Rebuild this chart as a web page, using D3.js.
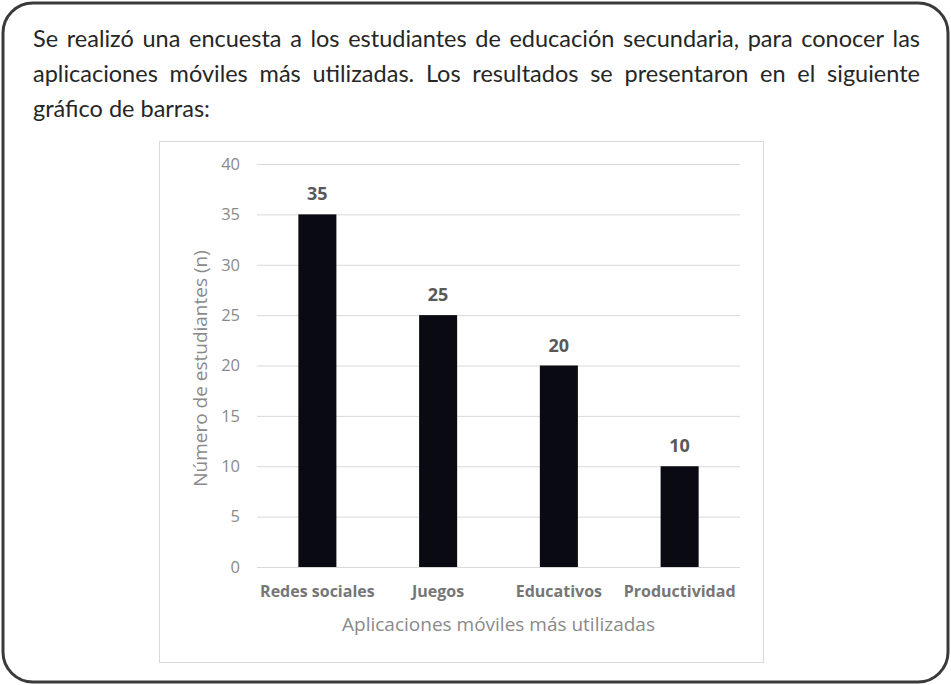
<!DOCTYPE html>
<html>
<head>
<meta charset="utf-8">
<script src="https://cdn.jsdelivr.net/npm/d3@7"></script>
<style>
  html, body { margin: 0; padding: 0; background: #fff; }
  svg { display: block; }
</style>
</head>
<body>
<svg id="chart" width="951" height="685"></svg>
<script>
const categories = ["Redes sociales", "Juegos", "Educativos", "Productividad"];
const students = [35, 25, 20, 10];
const yTicks = [0, 5, 10, 15, 20, 25, 30, 35, 40];
const introLines = [
  "Se realizó una encuesta a los estudiantes de educación secundaria, para conocer las",
  "aplicaciones móviles más utilizadas. Los resultados se presentaron en el siguiente",
  "gráfico de barras:"
];
const xTitle = "Aplicaciones móviles más utilizadas";
const yTitle = "Número de estudiantes (n)";

document.addEventListener('DOMContentLoaded', _ => {
  const svg = d3.select("svg#chart");
  const font = "'Open Sans', 'Noto Sans', sans-serif";
  const introFont = "Lato, 'Open Sans', sans-serif";

  // outer rounded frame
  svg.append("rect")
    .attr("x", 3).attr("y", 3)
    .attr("width", 945).attr("height", 679)
    .attr("rx", 30).attr("ry", 30)
    .attr("fill", "#fff")
    .attr("stroke", "#3a3a3a")
    .attr("stroke-width", 3);

  // intro paragraph, justified word by word
  const textLeft = 33, textRight = 920;
  const baselines = [47, 82, 117];
  introLines.forEach((line, i) => {
    const words = line.split(" ");
    const g = svg.append("g");
    const nodes = words.map(w => g.append("text")
      .text(w)
      .attr("y", baselines[i])
      .attr("font-family", introFont)
      .attr("font-size", 23.5)
      .attr("fill", "#262626"));
    const widths = nodes.map(n => n.node().getComputedTextLength());
    const total = d3.sum(widths);
    const justify = i < introLines.length - 1;
    const gap = justify ? Math.max(3, (textRight - textLeft - total) / (words.length - 1)) : 6;
    let x = textLeft;
    nodes.forEach((n, k) => {
      n.attr("x", x);
      x += widths[k] + gap;
    });
  });

  // chart box
  svg.append("rect")
    .attr("x", 159.5).attr("y", 141.5)
    .attr("width", 604).attr("height", 521)
    .attr("fill", "#fff")
    .attr("stroke", "#d9d9d9")
    .attr("stroke-width", 1);

  const plot = { left: 257, right: 740, top: 164, bottom: 567 };

  const xScale = d3.scaleBand()
    .domain(categories)
    .range([plot.left, plot.right])
    .paddingInner(0.685)
    .paddingOuter(0.3425);

  const yScale = d3.scaleLinear()
    .domain([0, 40])
    .range([plot.bottom, plot.top]);

  // gridlines
  const grid = svg.append("g")
    .attr("transform", `translate(${plot.left},0)`)
    .call(d3.axisLeft(yScale).tickValues(yTicks).tickFormat("").tickSize(-(plot.right - plot.left)));
  grid.select(".domain").remove();
  grid.selectAll(".tick line").attr("stroke", "#d9d9d9").attr("stroke-width", 1);

  // y tick labels
  const yAxis = svg.append("g")
    .attr("transform", `translate(${plot.left - 17},0)`)
    .call(d3.axisLeft(yScale).tickValues(yTicks).tickSize(0).tickPadding(0));
  yAxis.select(".domain").remove();
  yAxis.selectAll("text")
    .attr("font-family", font)
    .attr("font-size", 16.5)
    .attr("fill", "#8a8a8a");

  // bars
  svg.append("g").selectAll("rect")
    .data(students)
    .join("rect")
    .attr("x", (d, i) => xScale(categories[i]))
    .attr("y", d => yScale(d))
    .attr("width", xScale.bandwidth())
    .attr("height", d => yScale(0) - yScale(d))
    .attr("fill", "#0a0a12");

  // value labels
  svg.append("g").selectAll("text")
    .data(students)
    .join("text")
    .text(d => d)
    .attr("x", (d, i) => xScale(categories[i]) + xScale.bandwidth() / 2)
    .attr("y", d => yScale(d) - 14)
    .attr("text-anchor", "middle")
    .attr("font-family", font)
    .attr("font-weight", "bold")
    .attr("font-size", 18)
    .attr("fill", "#595959");

  // x axis labels
  const xAxis = svg.append("g")
    .attr("transform", `translate(0,${plot.bottom})`)
    .call(d3.axisBottom(xScale).tickSize(0).tickPadding(19));
  xAxis.select(".domain").remove();
  xAxis.selectAll("text")
    .attr("font-family", font)
    .attr("font-weight", "bold")
    .attr("font-size", 16)
    .attr("fill", "#767676");

  // axis titles
  svg.append("text")
    .text(xTitle)
    .attr("x", (plot.left + plot.right) / 2)
    .attr("y", 631)
    .attr("text-anchor", "middle")
    .attr("font-family", font)
    .attr("font-size", 19)
    .attr("fill", "#8a8a8a");

  svg.append("text")
    .text(yTitle)
    .attr("transform", `translate(207,${(plot.top + plot.bottom) / 2 + 3}) rotate(-90)`)
    .attr("text-anchor", "middle")
    .attr("font-family", font)
    .attr("font-size", 19)
    .attr("fill", "#8a8a8a");
});
</script>
</body>
</html>
